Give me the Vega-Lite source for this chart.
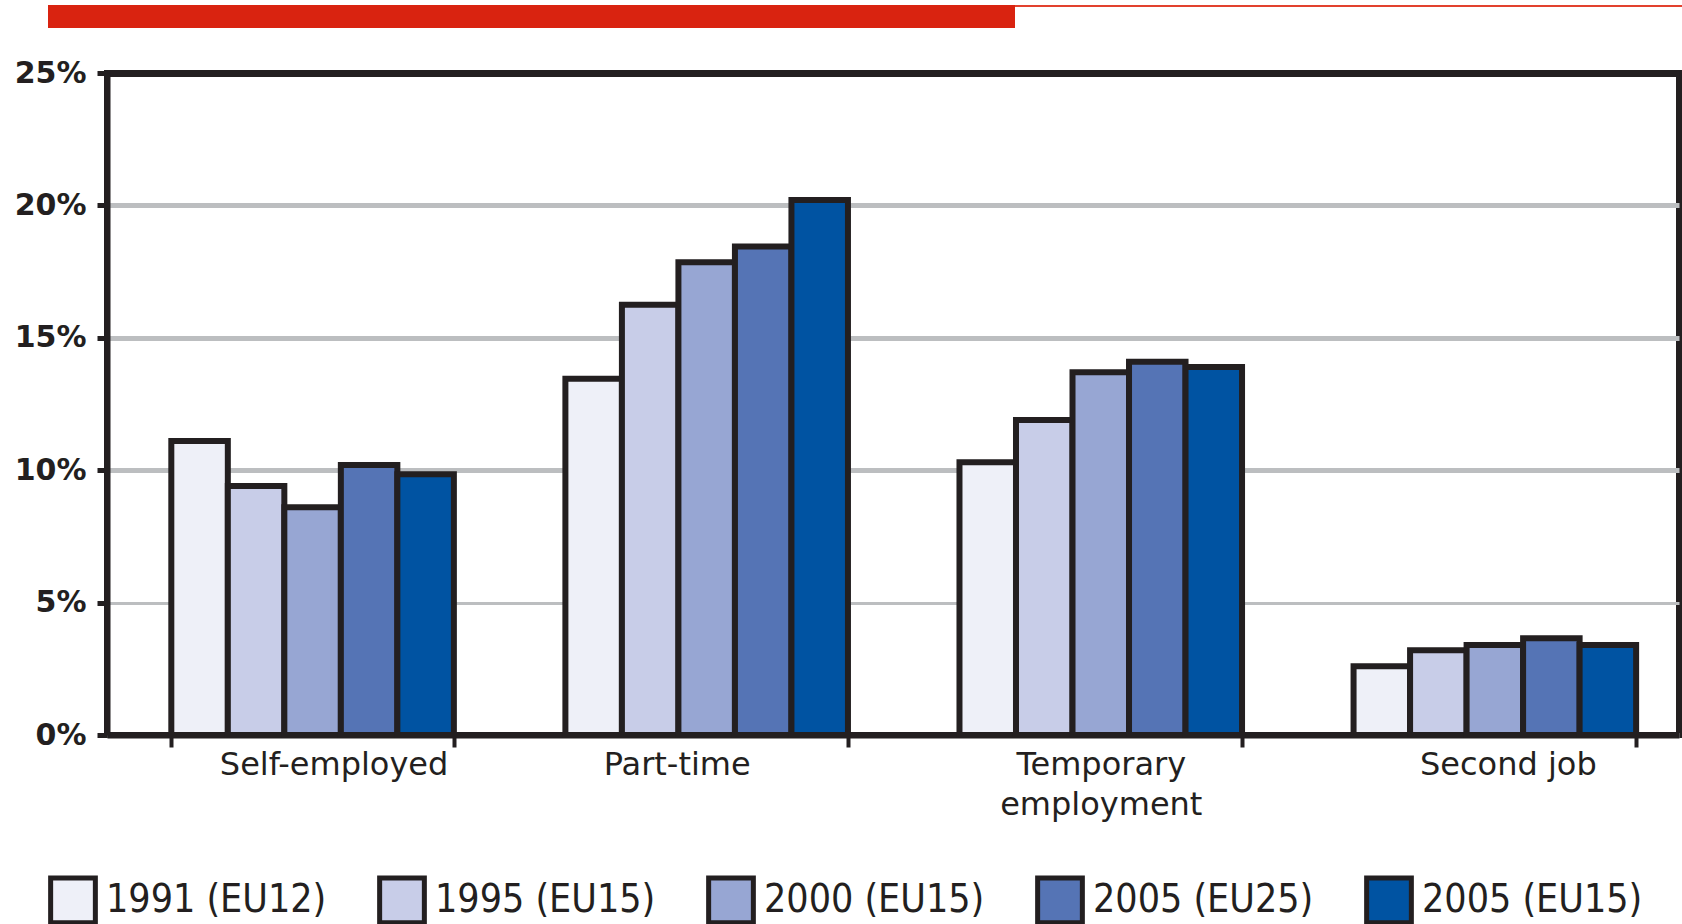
{
  "$schema": "https://vega.github.io/schema/vega-lite/v6.json",
  "padding": {"left": 0, "top": 5, "right": 3, "bottom": 0},
  "background": "white",
  "spacing": 27,
  "config": {"view": {"stroke": null}},
  "vconcat": [
    {
      "spacing": 0,
      "hconcat": [
        {"width": 48, "height": 2, "data": {"values": [{"t": ""}]}, "mark": {"type": "point", "size": 0, "opacity": 0}, "encoding": {}, "view": {"stroke": null}},
        {"width": 967, "height": 23, "data": {"values": [{"t": ""}]}, "mark": {"type": "point", "size": 0, "opacity": 0}, "encoding": {}, "view": {"fill": "#d92310", "stroke": null}},
        {"width": 667, "height": 2, "data": {"values": [{"t": ""}]}, "mark": {"type": "point", "size": 0, "opacity": 0}, "encoding": {}, "view": {"fill": "#e2412e", "stroke": null}}
      ]
    },
    {
      "spacing": 0,
      "hconcat": [
        {"width": 11, "height": 2, "data": {"values": [{"t": ""}]}, "mark": {"type": "point", "size": 0, "opacity": 0}, "encoding": {}, "view": {"stroke": null}},
        {
          "width": 1572,
          "height": 662,
          "data": {"values": [
            {"category": "Self-employed", "year": "1991 (EU12)", "value": 11.1},
            {"category": "Self-employed", "year": "1995 (EU15)", "value": 9.4},
            {"category": "Self-employed", "year": "2000 (EU15)", "value": 8.6},
            {"category": "Self-employed", "year": "2005 (EU25)", "value": 10.2},
            {"category": "Self-employed", "year": "2005 (EU15)", "value": 9.85},
            {"category": "Part-time", "year": "1991 (EU12)", "value": 13.45},
            {"category": "Part-time", "year": "1995 (EU15)", "value": 16.25},
            {"category": "Part-time", "year": "2000 (EU15)", "value": 17.85},
            {"category": "Part-time", "year": "2005 (EU25)", "value": 18.45},
            {"category": "Part-time", "year": "2005 (EU15)", "value": 20.2},
            {"category": "Temporary employment", "year": "1991 (EU12)", "value": 10.3},
            {"category": "Temporary employment", "year": "1995 (EU15)", "value": 11.9},
            {"category": "Temporary employment", "year": "2000 (EU15)", "value": 13.7},
            {"category": "Temporary employment", "year": "2005 (EU25)", "value": 14.1},
            {"category": "Temporary employment", "year": "2005 (EU15)", "value": 13.9},
            {"category": "Second job", "year": "1991 (EU12)", "value": 2.6},
            {"category": "Second job", "year": "1995 (EU15)", "value": 3.2},
            {"category": "Second job", "year": "2000 (EU15)", "value": 3.4},
            {"category": "Second job", "year": "2005 (EU25)", "value": 3.65},
            {"category": "Second job", "year": "2005 (EU15)", "value": 3.4}
          ]},
          "mark": {"type": "bar", "stroke": "#231f20", "strokeWidth": 6, "strokeJoin": "miter"},
          "encoding": {
            "x": {
              "field": "category", "type": "nominal",
              "sort": ["Self-employed", "Part-time", "Temporary employment", "Second job"],
              "scale": {"paddingInner": 0.283, "paddingOuter": 0.136, "align": 0.6},
              "axis": {
                "title": null, "labelAngle": 0,
                "domainColor": "#231f20", "domainWidth": 6,
                "tickColor": "#231f20", "tickWidth": 4, "tickSize": 12, "tickBand": "extent",
                "labelFont": "DejaVu Sans", "labelFontSize": 32, "labelColor": "#231f20",
                "labelPadding": 2, "labelLineHeight": 40, "labelBaseline": "top", "labelLimit": 500,
                "labelOffset": {"condition": [
                  {"test": "datum.value == 'Self-employed'", "value": 21},
                  {"test": "datum.value == 'Part-time'", "value": -30},
                  {"test": "datum.value == 'Second job'", "value": 13}
                ], "value": 0},
                "labelExpr": "datum.value == 'Temporary employment' ? ['Temporary', 'employment'] : datum.value"
              }
            },
            "xOffset": {
              "field": "year", "type": "nominal",
              "scale": {"domain": ["1991 (EU12)", "1995 (EU15)", "2000 (EU15)", "2005 (EU25)", "2005 (EU15)"], "paddingInner": 0, "paddingOuter": 0}
            },
            "y": {
              "field": "value", "type": "quantitative",
              "scale": {"domain": [0, 25], "nice": false},
              "axis": {
                "title": null, "values": [0, 5, 10, 15, 20, 25],
                "labelExpr": "datum.value + '%'",
                "domainColor": "#231f20", "domainWidth": 6,
                "tickColor": "#231f20", "tickWidth": 5, "tickSize": 10,
                "labelFont": "DejaVu Sans", "labelFontWeight": "bold", "labelFontSize": 30, "labelColor": "#231f20",
                "labelPadding": 11,
                "gridColor": {"condition": {"test": "datum.value === 25", "value": "#231f20"}, "value": "#bcbec0"},
                "gridWidth": {"condition": [
                  {"test": "datum.value === 5", "value": 3},
                  {"test": "datum.value === 25", "value": 7}
                ], "value": 5}
              }
            },
            "color": {
              "field": "year", "type": "nominal",
              "scale": {
                "domain": ["1991 (EU12)", "1995 (EU15)", "2000 (EU15)", "2005 (EU25)", "2005 (EU15)"],
                "range": ["#eef0f8", "#c8cde8", "#97a6d3", "#5574b5", "#0053a2"]
              },
              "legend": {
                "orient": "none", "legendX": 48, "legendY": 870,
                "direction": "horizontal", "title": null,
                "symbolType": "square", "symbolSize": 2000,
                "symbolStrokeColor": "#231f20", "symbolStrokeWidth": 5, "symbolOpacity": 1,
                "labelFont": "DejaVu Sans Condensed, Liberation Sans, sans-serif", "labelFontSize": 39, "labelColor": "#231f20",
                "labelOffset": 8, "columnPadding": 42, "gridAlign": "all", "labelLimit": 400
              }
            }
          },
          "view": {"stroke": "#231f20", "strokeWidth": 6}
        }
      ]
    }
  ]
}
